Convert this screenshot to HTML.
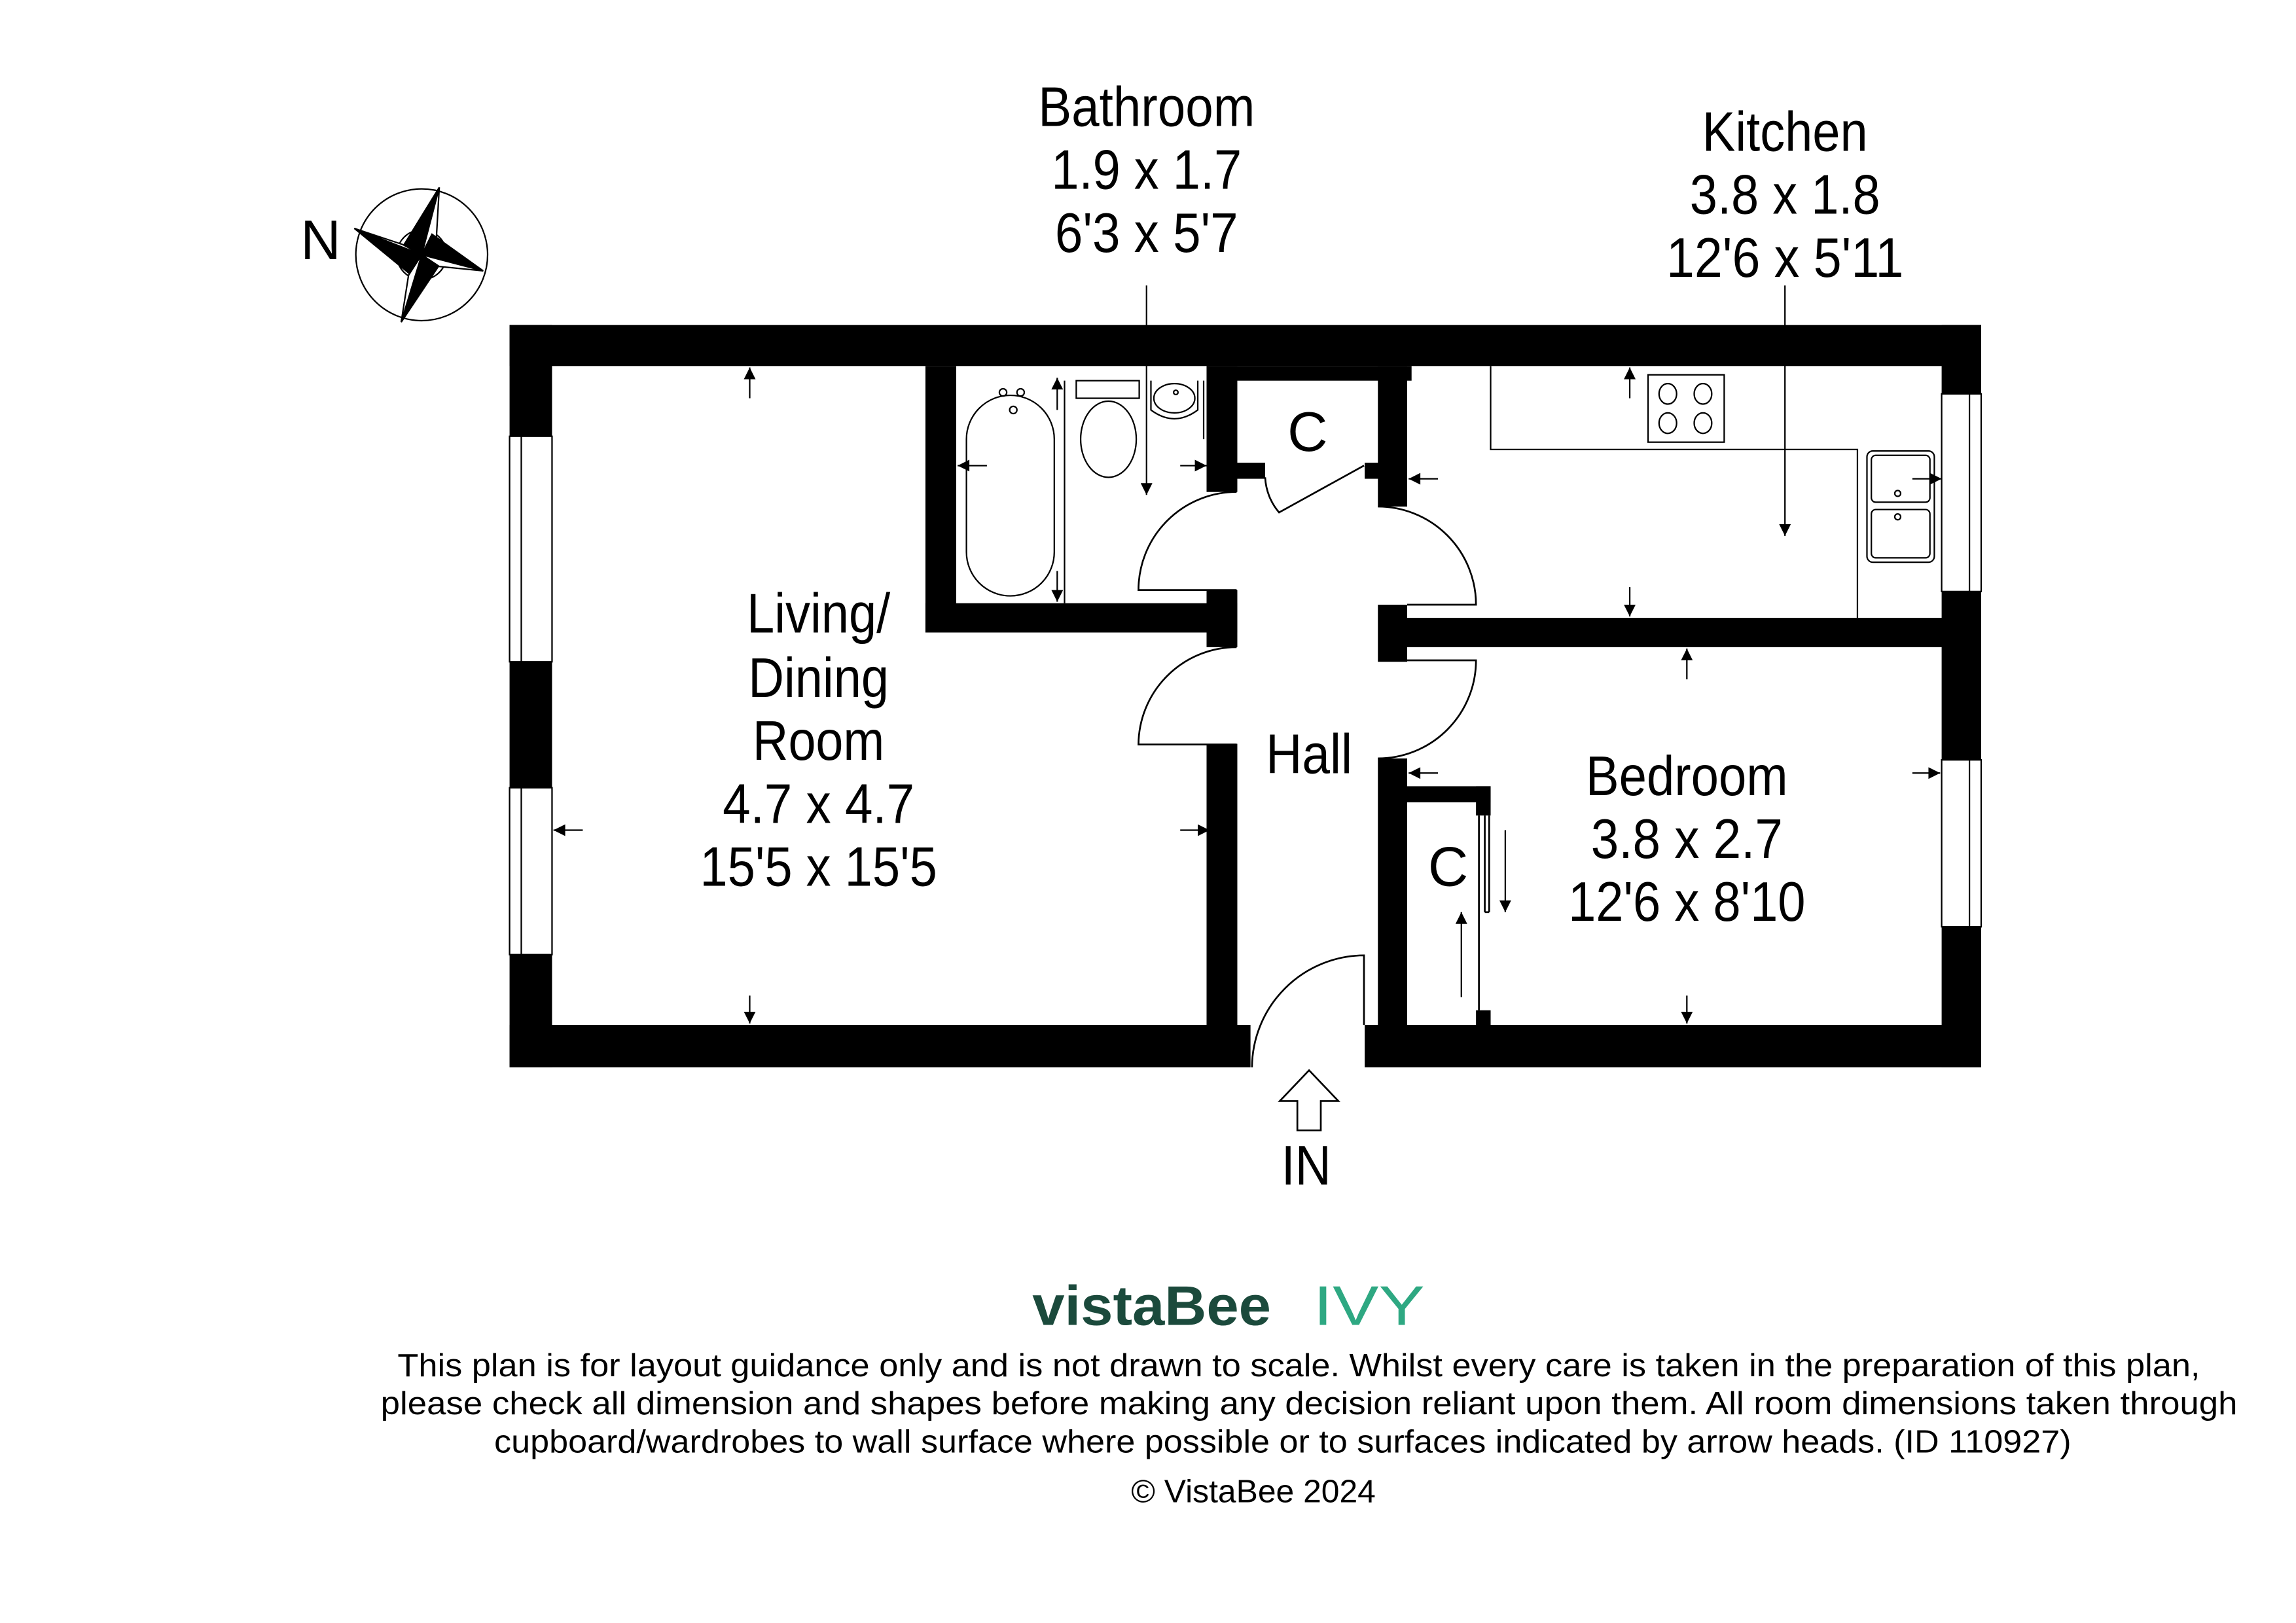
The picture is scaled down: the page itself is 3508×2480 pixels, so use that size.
<!DOCTYPE html>
<html><head><meta charset="utf-8"><style>
html,body{margin:0;padding:0;background:#fff}
svg{display:block}
text{font-family:"Liberation Sans",sans-serif;fill:#000}
</style></head><body>
<svg width="3508" height="2480" viewBox="0 0 1568 1108.5" preserveAspectRatio="none" xmlns="http://www.w3.org/2000/svg">
<defs>
<marker id="ah" viewBox="0 0 10 10" refX="10" refY="5" markerWidth="10" markerHeight="8" orient="auto" markerUnits="userSpaceOnUse"><path d="M0,0 L10,5 L0,10 z" fill="#000"/></marker>
</defs>
<rect width="1568" height="1108.5" fill="#fff"/>

<g fill="#000">
<rect x="348" y="222" width="1005" height="28"/>
<rect x="348" y="222" width="29" height="507"/>
<rect x="348" y="700" width="506" height="29"/>
<rect x="932" y="700" width="421" height="29"/>
<rect x="1326" y="222" width="27" height="507"/>
<rect x="632" y="250" width="21" height="182"/>
<rect x="632" y="412" width="213" height="20"/>
<rect x="824" y="250" width="140" height="10"/>
<rect x="824" y="250" width="21" height="86"/>
<rect x="844" y="316" width="20" height="11"/>
<rect x="824" y="403" width="21" height="39"/>
<rect x="824" y="508" width="21" height="193"/>
<rect x="941" y="250" width="20" height="96"/>
<rect x="932" y="316" width="10" height="11"/>
<rect x="941" y="413" width="20" height="39"/>
<rect x="960" y="422" width="367" height="20"/>
<rect x="941" y="518" width="20" height="183"/>
<rect x="960" y="537" width="58" height="11"/>
<rect x="1008" y="537" width="10" height="20"/>
<rect x="1008" y="690" width="10" height="11"/>
</g>
<g fill="#fff" stroke="#000" stroke-width="1">
<rect x="348" y="298" width="29" height="154"/>
<rect x="348" y="538" width="29" height="114"/>
<rect x="1326" y="269" width="27" height="135"/>
<rect x="1326" y="519" width="27" height="114"/>
</g>
<g stroke="#000" stroke-width="1">
<line x1="356" y1="298" x2="356" y2="452"/>
<line x1="356" y1="538" x2="356" y2="652"/>
<line x1="1345" y1="269" x2="1345" y2="404"/>
<line x1="1345" y1="519" x2="1345" y2="633"/>
</g>

<g fill="none" stroke="#000" stroke-width="1.2">
<path d="M844.5,336 A67,67 0 0 0 777.5,403 L844.5,403"/>
<path d="M941,346 A67,67 0 0 1 1008,413 L961,413"/>
<path d="M844.5,442 A67,67 0 0 0 777.5,508.5 L844.5,508.5"/>
<path d="M961,451 L1008,451 A67,67 0 0 1 941,518"/>
<path d="M931.5,700 L931.5,652.5 A77,77 0 0 0 855,729"/>
<path d="M931.5,318 L873.5,350 A40,40 0 0 1 864,326"/>
<line x1="1010" y1="557" x2="1010" y2="690"/>
<line x1="1014" y1="557" x2="1014" y2="623"/>
<line x1="1014" y1="623" x2="1017" y2="623"/>
<line x1="1017" y1="557" x2="1017" y2="623"/>
</g>

<g fill="none" stroke="#000" stroke-width="1">
<polyline points="1018,250 1018,307 1268.5,307 1268.5,422"/>
<rect x="1125.5" y="256" width="52" height="46"/>
<ellipse cx="1139" cy="269" rx="6" ry="7"/><ellipse cx="1163" cy="269" rx="6" ry="7"/>
<ellipse cx="1139" cy="289" rx="6" ry="7"/><ellipse cx="1163" cy="289" rx="6" ry="7"/>
<rect x="1275" y="308" width="46" height="76" rx="4"/>
<rect x="1278" y="311" width="40" height="32" rx="3"/>
<rect x="1278" y="348" width="40" height="33" rx="3"/>
<circle cx="1296" cy="337" r="2"/><circle cx="1296" cy="353" r="2"/>
<rect x="660" y="270" width="60" height="137" rx="30"/>
<circle cx="685" cy="268" r="2.5"/><circle cx="697" cy="268" r="2.5"/><circle cx="692" cy="280" r="2.5"/>
<line x1="727" y1="260" x2="727" y2="412"/>
<rect x="735" y="260" width="43" height="12"/>
<ellipse cx="757" cy="300" rx="19" ry="26"/>
<path d="M786,260 L786,280 Q802,292 818,280 L818,260"/>
<ellipse cx="802" cy="272" rx="14" ry="10"/>
<circle cx="803" cy="268" r="1.5"/>
<line x1="822" y1="260" x2="822" y2="300"/>
</g>

<g stroke="#000" stroke-width="1" marker-end="url(#ah)">
<line x1="512" y1="272" x2="512" y2="251"/>
<line x1="512" y1="680" x2="512" y2="699"/>
<line x1="398" y1="567" x2="378" y2="567"/>
<line x1="806" y1="567" x2="826" y2="567"/>
<line x1="674" y1="318" x2="654" y2="318"/>
<line x1="806" y1="318" x2="824" y2="318"/>
<line x1="722" y1="280" x2="722" y2="258"/>
<line x1="722" y1="390" x2="722" y2="411"/>
<line x1="783" y1="195" x2="783" y2="338"/>
<line x1="1113" y1="272" x2="1113" y2="251"/>
<line x1="1113" y1="401" x2="1113" y2="421"/>
<line x1="982" y1="327" x2="962" y2="327"/>
<line x1="1306" y1="327" x2="1326" y2="327"/>
<line x1="1219" y1="195" x2="1219" y2="366"/>
<line x1="1152" y1="464" x2="1152" y2="443"/>
<line x1="1152" y1="680" x2="1152" y2="699"/>
<line x1="982" y1="528" x2="962" y2="528"/>
<line x1="1306" y1="528" x2="1325" y2="528"/>
<line x1="1028" y1="567" x2="1028" y2="623"/>
<line x1="998" y1="681" x2="998" y2="623"/>
</g>

<path d="M886,772 L886,752 L874,752 L894,731 L914,752 L902,752 L902,772 Z" fill="none" stroke="#000" stroke-width="1.2"/>

<g stroke="#000" stroke-width="1" fill="none">
<circle cx="288" cy="174" r="45"/>
<circle cx="288" cy="174" r="17"/>
<path d="M300,128 L288,174 L276,167 Z" fill="#000"/>
<path d="M300,128 L288,174 L297,180 Z" fill="#fff"/>
<path d="M242,156 L288,174 L281,188 Z" fill="#000"/>
<path d="M242,156 L288,174 L275,167 Z" fill="#fff"/>
<path d="M274,220 L288,174 L300,181 Z" fill="#000"/>
<path d="M274,220 L288,174 L279,188 Z" fill="#fff"/>
<path d="M330,185 L288,174 L295,160 Z" fill="#000"/>
<path d="M330,185 L288,174 L300,182 Z" fill="#fff"/>
</g>
<text x="219" y="177" font-size="38" text-anchor="middle">N</text>

<g font-size="38" text-anchor="middle">
<text x="783" y="86" textLength="148" lengthAdjust="spacingAndGlyphs">Bathroom</text>
<text x="783" y="129" textLength="130" lengthAdjust="spacingAndGlyphs">1.9 x 1.7</text>
<text x="783" y="172" textLength="125" lengthAdjust="spacingAndGlyphs">6'3 x 5'7</text>
<text x="1219" y="103" textLength="113" lengthAdjust="spacingAndGlyphs">Kitchen</text>
<text x="1219" y="146" textLength="130" lengthAdjust="spacingAndGlyphs">3.8 x 1.8</text>
<text x="1219" y="189" textLength="162" lengthAdjust="spacingAndGlyphs">12'6 x 5'11</text>
<text x="559" y="432" textLength="98" lengthAdjust="spacingAndGlyphs">Living/</text>
<text x="559" y="476" textLength="96" lengthAdjust="spacingAndGlyphs">Dining</text>
<text x="559" y="519" textLength="90" lengthAdjust="spacingAndGlyphs">Room</text>
<text x="559" y="562" textLength="131" lengthAdjust="spacingAndGlyphs">4.7 x 4.7</text>
<text x="559" y="605" textLength="162" lengthAdjust="spacingAndGlyphs">15'5 x 15'5</text>
<text x="894" y="528" textLength="59" lengthAdjust="spacingAndGlyphs">Hall</text>
<text x="1152" y="543" textLength="138" lengthAdjust="spacingAndGlyphs">Bedroom</text>
<text x="1152" y="586" textLength="131" lengthAdjust="spacingAndGlyphs">3.8 x 2.7</text>
<text x="1152" y="629" textLength="162" lengthAdjust="spacingAndGlyphs">12'6 x 8'10</text>
<text x="893" y="308">C</text>
<text x="989" y="605">C</text>
<text x="892" y="809" textLength="34" lengthAdjust="spacingAndGlyphs">IN</text>
</g>

<text x="705" y="905" font-size="38" font-weight="bold" style="fill:#1b4a3c" textLength="163" lengthAdjust="spacingAndGlyphs">vistaBee</text>
<text x="897" y="905" font-size="38" style="fill:#2ea882" textLength="76" lengthAdjust="spacingAndGlyphs">IVY</text>
<g font-size="22" text-anchor="middle">
<text x="887" y="940" textLength="1231" lengthAdjust="spacingAndGlyphs">This plan is for layout guidance only and is not drawn to scale. Whilst every care is taken in the preparation of this plan,</text>
<text x="894" y="966" textLength="1268" lengthAdjust="spacingAndGlyphs">please check all dimension and shapes before making any decision reliant upon them. All room dimensions taken through</text>
<text x="876" y="992" textLength="1077" lengthAdjust="spacingAndGlyphs">cupboard/wardrobes to wall surface where possible or to surfaces indicated by arrow heads. (ID 110927)</text>
<text x="856" y="1026" textLength="167" lengthAdjust="spacingAndGlyphs">© VistaBee 2024</text>
</g>
</svg>
</body></html>
